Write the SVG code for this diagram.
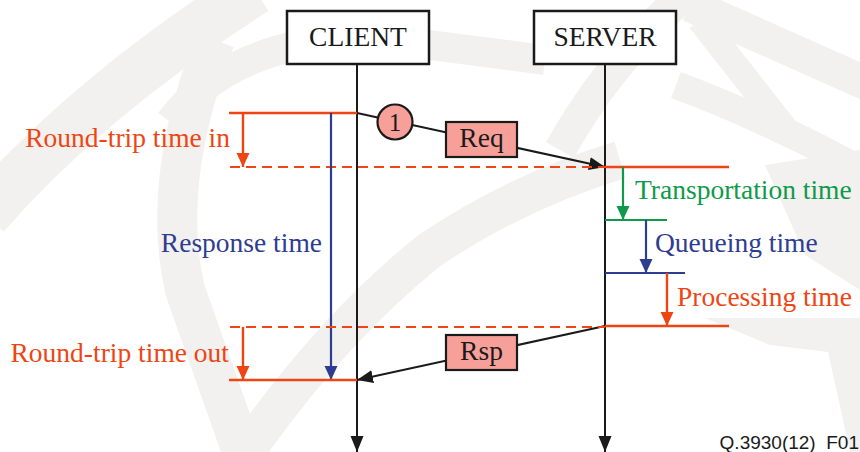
<svg xmlns="http://www.w3.org/2000/svg" width="860" height="452" viewBox="0 0 860 452">
<style>
.wm{fill:none;stroke:#F2F1F0;stroke-linecap:butt;stroke-linejoin:round}
.wf{fill:#F2F1F0;stroke:none}
.box{fill:#ffffff;stroke:#1a1a1a;stroke-width:2.5}
.msg{fill:#F7A09A;stroke:#1a1a1a;stroke-width:2.2}
.life{stroke:#1a1a1a;stroke-width:2;fill:none}
.red{stroke:#EE4512;stroke-width:2.4;fill:none}
.redd{stroke:#EE4512;stroke-width:2.2;fill:none;stroke-dasharray:10 6}
.grn{stroke:#0E9A4A;stroke-width:2.2;fill:none}
.blu{stroke:#2E3D8F;stroke-width:2.2;fill:none}
.blk{stroke:#1a1a1a;stroke-width:2;fill:none}
text{font-family:"Liberation Serif","Times New Roman",serif}
.t{font-size:27.5px}
.tr{fill:#EE4512}
.tg{fill:#0E9A4A}
.tb{fill:#2E3D8F}
.tk{fill:#1a1a1a}
.foot{font-family:"Liberation Sans",Arial,sans-serif;font-size:19px;fill:#1a1a1a}
</style>
<defs>
<marker id="ar" markerUnits="userSpaceOnUse" markerWidth="14" markerHeight="14" refX="14" refY="7" orient="auto"><path d="M0,0.5 L14,7 L0,13.5 z" fill="#EE4512"/></marker>
<marker id="ag" markerUnits="userSpaceOnUse" markerWidth="14" markerHeight="14" refX="14" refY="7" orient="auto"><path d="M0,0.5 L14,7 L0,13.5 z" fill="#0E9A4A"/></marker>
<marker id="ab" markerUnits="userSpaceOnUse" markerWidth="14" markerHeight="14" refX="14" refY="7" orient="auto"><path d="M0,0.5 L14,7 L0,13.5 z" fill="#2E3D8F"/></marker>
<marker id="ak" markerUnits="userSpaceOnUse" markerWidth="16" markerHeight="14" refX="16" refY="7" orient="auto"><path d="M0,0.5 L16,7 L0,13.5 z" fill="#1a1a1a"/></marker>
</defs>
<rect width="860" height="452" fill="#ffffff"/>
<g id="watermark">
<path class="wm" stroke-width="50" d="M-15,215 Q90,95 255,-10"/>
<path class="wm" stroke-width="30" d="M170,122 Q215,62 300,45 L430,45 L545,60"/>
<path class="wm" stroke-width="40" d="M215,40 Q160,180 185,290 L245,460"/>
<path class="wm" stroke-width="38" d="M240,460 Q330,330 430,250 Q520,190 620,160"/>
<path class="wm" stroke-width="32" d="M560,150 Q610,60 690,-10"/>
<path class="wm" stroke-width="34" d="M690,5 Q780,45 870,85"/>
<path class="wm" stroke-width="28" d="M676,85 Q770,120 870,175"/>
<path class="wm" stroke-width="26" d="M700,20 L790,135"/>
<path class="wf" d="M765,165 L860,150 L860,290 L805,255 z"/>
<path class="wf" d="M705,318 L860,318 L860,452 L850,452 L828,352 L770,345 z"/>
</g>
<g id="client">
<rect class="box" x="287" y="11" width="142" height="53"/>
<text class="t tk" x="358" y="46" text-anchor="middle">CLIENT</text>
</g>
<g id="server">
<rect class="box" x="534" y="11" width="142" height="53"/>
<text class="t tk" x="605" y="46" text-anchor="middle">SERVER</text>
</g>
<g id="connectors">
<line class="life" x1="357" y1="64" x2="357" y2="452" marker-end="url(#ak)"/>
<line class="life" x1="605" y1="64" x2="605" y2="452" marker-end="url(#ak)"/>
<line class="blk" x1="357" y1="113" x2="605" y2="167" marker-end="url(#ak)"/>
<line class="blk" x1="605" y1="326" x2="357" y2="380" marker-end="url(#ak)"/>
<line class="red" x1="229" y1="113" x2="357" y2="113"/>
<line class="red" x1="243" y1="113" x2="243" y2="167" marker-end="url(#ar)"/>
<line class="redd" x1="230" y1="167" x2="605" y2="167"/>
<line class="blu" x1="331" y1="113" x2="331" y2="380" marker-end="url(#ab)"/>
<line class="red" x1="605" y1="167" x2="729" y2="167"/>
<line class="grn" x1="623" y1="167" x2="623" y2="220" marker-end="url(#ag)"/>
<line class="grn" x1="605" y1="220" x2="667" y2="220"/>
<line class="blu" x1="646" y1="220" x2="646" y2="273" marker-end="url(#ab)"/>
<line class="blu" x1="605" y1="273" x2="685" y2="273"/>
<line class="red" x1="667" y1="273" x2="667" y2="326" marker-end="url(#ar)"/>
<line class="red" x1="605" y1="326" x2="729" y2="326"/>
<line class="redd" x1="230" y1="327" x2="605" y2="327"/>
<line class="red" x1="243" y1="327" x2="243" y2="380" marker-end="url(#ar)"/>
<line class="red" x1="229" y1="380" x2="357" y2="380"/>
</g>
<g id="step1">
<circle cx="395" cy="122" r="17.5" fill="#F7A09A" stroke="#1a1a1a" stroke-width="2.2"/>
<text class="tk" x="395" y="131" font-size="25" text-anchor="middle">1</text>
</g>
<g id="req">
<rect class="msg" x="446" y="122" width="71" height="35"/>
<text class="t tk" x="481.5" y="147" text-anchor="middle">Req</text>
</g>
<g id="rsp">
<rect class="msg" x="446" y="335" width="71" height="35"/>
<text class="t tk" x="481.5" y="360" text-anchor="middle">Rsp</text>
</g>
<g id="labels">
<text class="t tr" x="230" y="147" text-anchor="end">Round-trip time in</text>
<text class="t tb" x="322" y="252" text-anchor="end">Response time</text>
<text class="t tr" x="229" y="362" text-anchor="end">Round-trip time out</text>
<text class="t tg" x="635" y="199">Transportation time</text>
<text class="t tb" x="655" y="252">Queueing time</text>
<text class="t tr" x="677" y="306">Processing time</text>
<text class="foot" x="859" y="449" text-anchor="end">Q.3930(12)_F01</text>
</g>
</svg>
